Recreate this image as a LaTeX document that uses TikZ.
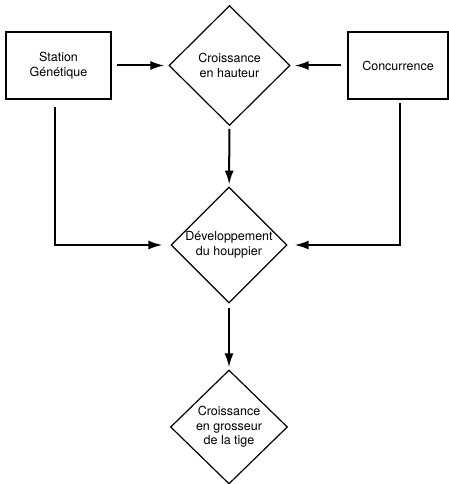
\documentclass[tikz,border=0pt]{standalone}
\usepackage{fontspec}
\setmainfont{TeX Gyre Heros}
\usetikzlibrary{shapes.geometric,arrows.meta}

\begin{document}
\begin{tikzpicture}[x=1pt,y=-1pt]
        \tikzstyle{boite}=[draw,line width=1.2pt,minimum height=67pt,align=center,font=\fontsize{12.5}{15}\selectfont]
        \tikzstyle{losange}=[draw,diamond,line width=1.2pt,inner sep=0pt,align=center,font=\fontsize{12.5}{14.5}\selectfont]
        \tikzstyle{fleche}=[line width=2pt,-{Latex[length=14pt,width=9pt]}]

        \useasboundingbox (0,0) rectangle (449,484);

        \node (station)[boite,minimum width=105pt] at (58.5,65.5) {Station\\Génétique};
        \node (hauteur)[losange,minimum width=121pt,minimum height=120pt] at (229.5,65.5) {Croissance\\en hauteur};
        \node (concurrence)[boite,minimum width=100pt] at (398,65.5) {Concurrence};

        \node (houppier)[losange,minimum width=116pt,minimum height=116pt] at (229,245) {Développement\\du houppier};
        \node (tige)[losange,minimum width=117pt,minimum height=114pt] at (229,427) {Croissance\\en grosseur\\de la tige};

        \draw[fleche,shorten <=5pt,shorten >=4pt] (station) -- (hauteur);
        \draw[fleche,shorten <=6pt,shorten >=4pt] (concurrence) -- (hauteur);
        \draw[fleche,shorten <=3pt,shorten >=2pt] (hauteur) -- (houppier);
        \draw[fleche,shorten <=7pt,shorten >=8pt] ([xshift=-4pt]station.south) |- (houppier.west);
        \draw[fleche,shorten <=3pt,shorten >=7pt] ([xshift=2pt]concurrence.south) |- (houppier.east);
        \draw[fleche,shorten <=4pt,shorten >=2pt] (houppier) -- (tige);
    \end{tikzpicture}
\end{document}
